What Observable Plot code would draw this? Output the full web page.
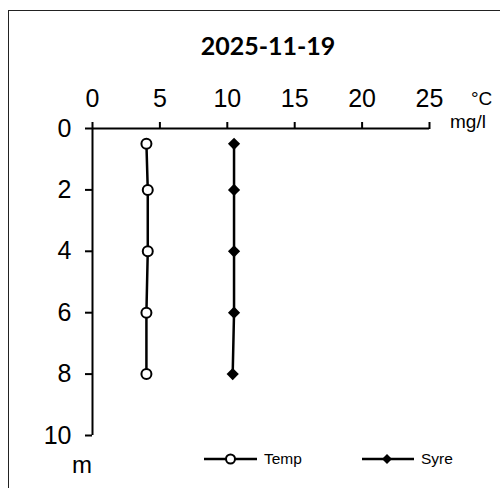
<!DOCTYPE html>
<html>
<head>
<meta charset="utf-8">
<script src="https://cdn.jsdelivr.net/npm/d3@7"></script>
<script src="https://cdn.jsdelivr.net/npm/@observablehq/plot@0.6"></script>
<style>
  html, body { margin: 0; padding: 0; background: #fff; }
  body { width: 500px; height: 488px; overflow: hidden; position: relative; font-family: "Liberation Sans", Arial, sans-serif; }
  #frame { position: absolute; left: 8px; top: 10px; width: 600px; height: 600px; border: 1.5px solid #222; box-sizing: border-box; }
  #chart { position: absolute; left: 0; top: 0; }
  .abs { position: absolute; white-space: nowrap; color: #000; }
  #title { left: 0; width: 536px; text-align: center; top: 30px; font-family: Lato, "Open Sans", sans-serif; font-weight: bold; font-size: 25px; }
  .unit { font-size: 19px; line-height: 14px; }
  .leg { font-size: 15.5px; display: flex; align-items: center; }
  .leg svg { margin-right: 6px; }
</style>
</head>
<body>
<div id="frame"></div>
<div id="chart"></div>
<div id="title" class="abs">2025-11-19</div>
<div class="abs unit" style="left:471px; top:92px;">°C</div>
<div class="abs unit" style="left:450px; top:114.5px;">mg/l</div>
<div class="abs" style="left:72px; top:451px; font-size:24px;">m</div>
<div class="abs leg" style="left:204px; top:450px;">
  <svg width="54" height="18"><line x1="0" y1="9" x2="53" y2="9" stroke="#000" stroke-width="2.5"/><circle cx="26.5" cy="9" r="4.5" fill="#fff" stroke="#000" stroke-width="2"/></svg>Temp
</div>
<div class="abs leg" style="left:362px; top:450px;">
  <svg width="53" height="18"><line x1="0" y1="9" x2="52" y2="9" stroke="#000" stroke-width="2.5"/><path d="M25,4 L30,9 L25,14 L20,9 Z" fill="#000"/></svg>Syre
</div>
<script>
// Data
const depths = [0.5, 2, 4, 6, 8];
const tempValues = [4.0, 4.1, 4.1, 4.0, 4.0];
const syreValues = [10.5, 10.5, 10.5, 10.5, 10.4];
const xTicks = [0, 5, 10, 15, 20, 25];
const yTicks = [0, 2, 4, 6, 8, 10];

const temp = depths.map((d, i) => ({d, v: tempValues[i]}));
const syre = depths.map((d, i) => ({d, v: syreValues[i]}));

const chart = Plot.plot({
  width: 500,
  height: 488,
  marginLeft: 92,
  marginRight: 71,
  marginTop: 128,
  marginBottom: 53,
  style: {fontFamily: '"Liberation Sans", Arial, sans-serif', fontSize: "25px", background: "transparent", overflow: "visible"},
  x: {domain: [0, 25]},
  y: {domain: [0, 10], reverse: true},
  marks: [
    Plot.axisX({anchor: "top", ticks: xTicks, tickSize: 7, tickPadding: 15, strokeWidth: 2, label: null, fontSize: 25, color: "#000"}),
    Plot.axisY({anchor: "left", ticks: yTicks, tickSize: 7, tickPadding: 14, strokeWidth: 2, label: null, fontSize: 25, color: "#000"}),
    Plot.ruleY([0], {stroke: "#000", strokeWidth: 2}),
    Plot.ruleX([0], {stroke: "#000", strokeWidth: 2}),
    Plot.line(temp, {x: "v", y: "d", stroke: "#000", strokeWidth: 2.5}),
    Plot.line(syre, {x: "v", y: "d", stroke: "#000", strokeWidth: 2.5}),
    Plot.dot(temp, {x: "v", y: "d", r: 5, fill: "#fff", stroke: "#000", strokeWidth: 2}),
    Plot.dot(syre, {x: "v", y: "d", r: 5.5, symbol: "diamond2", fill: "#000", stroke: "none"})
  ]
});
document.getElementById("chart").appendChild(chart);
</script>
</body>
</html>
